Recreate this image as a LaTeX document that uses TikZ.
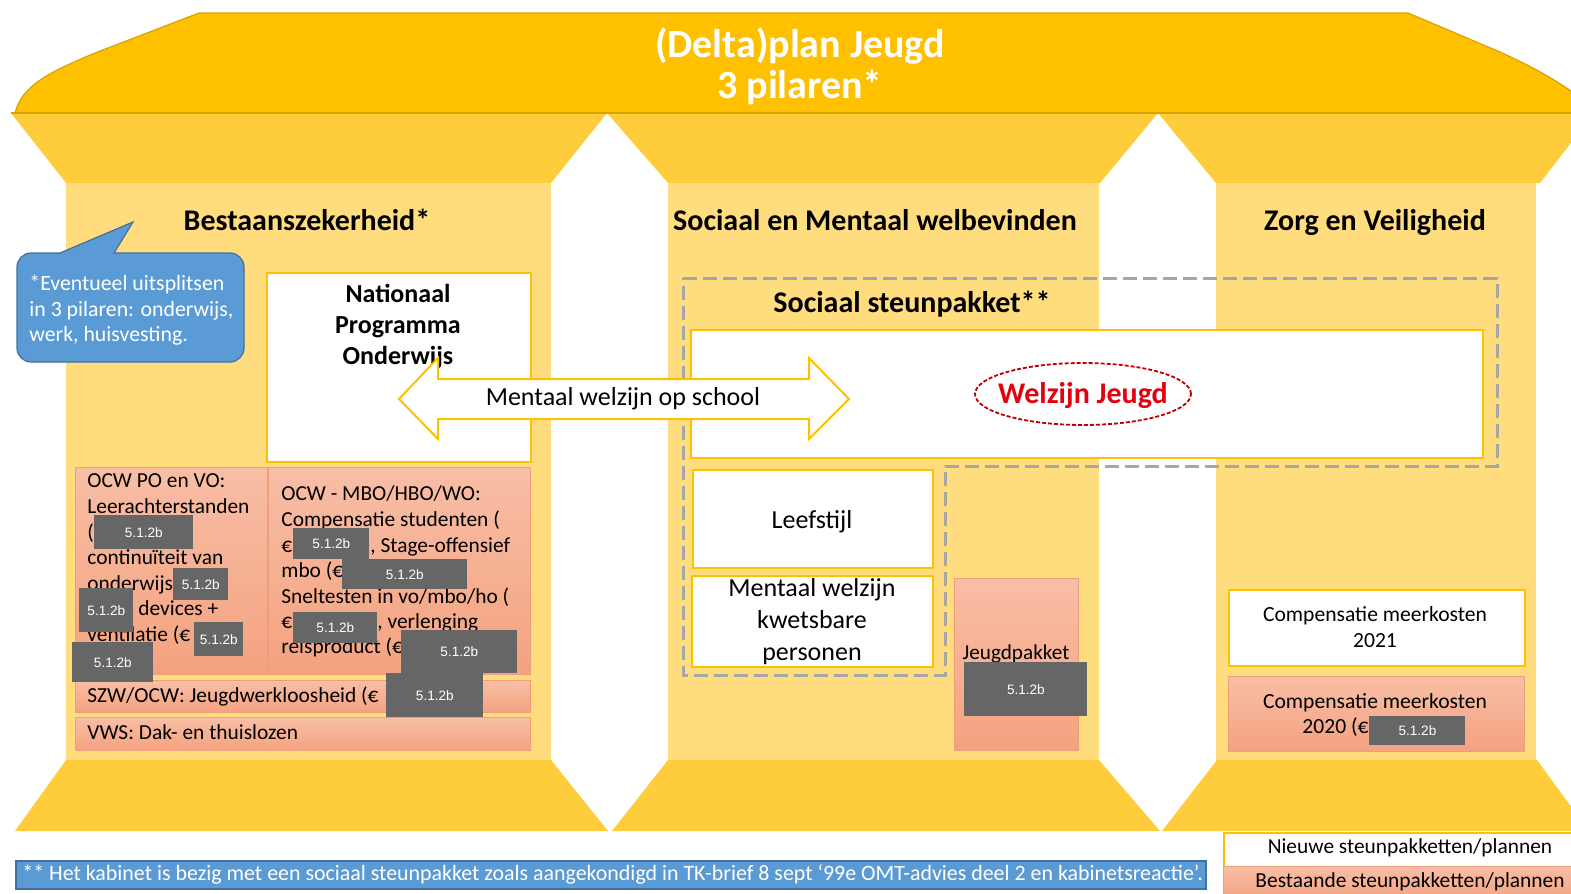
\documentclass[tikz,border=0pt]{standalone}
\usepackage{fontspec}
\setmainfont{Carlito}
\newfontfamily\redfont{Liberation Sans}
\usetikzlibrary{shapes.geometric}
\definecolor{roofc}{HTML}{FFC000}
\definecolor{roofd}{HTML}{D9A300}
\definecolor{capc}{HTML}{FFCD3C}
\definecolor{pilc}{HTML}{FFDC7E}
\definecolor{goldc}{HTML}{FFC000}
\definecolor{salT}{HTML}{F8BEA6}
\definecolor{salB}{HTML}{F4A27F}
\definecolor{salD}{HTML}{EE9E7A}
\definecolor{blu}{HTML}{5B9BD5}
\definecolor{bluD}{HTML}{41719C}
\definecolor{redT}{HTML}{E3000F}
\definecolor{redE}{HTML}{C00000}
\definecolor{redc}{HTML}{666666}
\definecolor{dgray}{HTML}{A6A6A6}
\newcommand\mybox[6]{\node[#2, inner sep=0pt, anchor=north west, minimum width={(#5-#3)*0.5pt}, minimum height={(#6-#4)*0.5pt}] (#1) at (#3,#4) {};}
\newcommand\redact[5]{\node[rbox, inner sep=0pt, anchor=north west, minimum width={(#4-#2)*0.5pt}, minimum height={(#5-#3)*0.5pt}] (#1) at (#2,#3) {5.1.2b};}
\begin{document}
\begin{tikzpicture}[x=0.5pt,y=-0.5pt,
  wbox/.style={draw=goldc, line width=1pt, fill=white},
  sbox/.style={draw=salD, line width=0.6pt, top color=salT, bottom color=salB},
  rbox/.style={fill=redc, text=white, font=\redfont\fontsize{6.8}{7}\selectfont},
  lline/.style={inner sep=0pt, anchor=base west},
  cline/.style={inner sep=0pt, anchor=base},
  smallf/.style={font=\fontsize{10.7}{12.85}\selectfont},
  headf/.style={font=\fontsize{15}{17}\selectfont\bfseries},
  midf/.style={font=\fontsize{13}{15}\selectfont},
  compf/.style={font=\fontsize{10.8}{13}\selectfont}]
\useasboundingbox (0,0) rectangle (1571,894);
\clip (0,0) rectangle (1571,894);
% roof
\path[fill=roofc, draw=roofd, line width=0.6pt] (15,113) .. controls (22,85) and (50,72) .. (95,53) -- (199,13) -- (1408,13) -- (1500,52) .. controls (1530,66) and (1555,78) .. (1590,105) -- (1590,113) -- cycle;
% capitals
\fill[capc] (11,113) -- (607,113) -- (551,183) -- (66,183) -- cycle;
\fill[capc] (607,113) -- (1158,113) -- (1100,183) -- (668,183) -- cycle;
\fill[capc] (1158,113) -- (1594,113) -- (1540,183) -- (1216,183) -- cycle;
\draw[roofd, line width=0.6pt] (11,113) -- (1571,113);
% pillars
\fill[pilc] (66,183) rectangle (551,760);
\fill[pilc] (668,183) rectangle (1099,760);
\fill[pilc] (1216,183) rectangle (1536,760);
% bases
\fill[capc] (66,760) -- (551,760) -- (608,831) -- (15,831) -- cycle;
\fill[capc] (668,760) -- (1099,760) -- (1160,831) -- (612,831) -- cycle;
\fill[capc] (1217,760) -- (1537,760) -- (1589,831) -- (1162,831) -- cycle;
% title
\node[cline, text=white, font=\fontsize{20}{24}\selectfont\bfseries] (t1) at (800,57) {(Delta)plan Jeugd};
\node[cline, text=white, font=\fontsize{20}{24}\selectfont\bfseries] (t2) at (800,98) {3 pilaren*};
% headings
\node[cline, headf] (h1) at (307,230) {Bestaanszekerheid*};
\node[cline, headf] (h2) at (875,230) {Sociaal en Mentaal welbevinden};
\node[cline, headf] (h3) at (1375,230) {Zorg en Veiligheid};
% callout
\path[fill=blu, draw=bluD, line width=0.6pt] (60,253) -- (133,222) -- (114,253) [rounded corners=7pt] -- (244,253) -- (244,362) -- (17,362) -- (17,253) [sharp corners] -- cycle;
\node[lline, text=white, font=\fontsize{10.9}{12.5}\selectfont] (c1) at (29,290) {*Eventueel uitsplitsen};
\node[lline, text=white, font=\fontsize{10.9}{12.5}\selectfont] (c2) at (29,316) {in 3 pilaren: onderwijs,};
\node[lline, text=white, font=\fontsize{10.9}{12.5}\selectfont] (c3) at (29,341) {werk, huisvesting.};
% NPO
\mybox{npo}{wbox}{266}{272}{530}{461}
\node[cline, font=\fontsize{13}{15}\selectfont\bfseries] (n1) at (398,302) {Nationaal};
\node[cline, font=\fontsize{13}{15}\selectfont\bfseries] (n2) at (398,333) {Programma};
\node[cline, font=\fontsize{13}{15}\selectfont\bfseries] (n3) at (398,364) {Onderwijs};
% left salmon boxes
\mybox{bA}{sbox}{75}{467}{267}{674}
\mybox{bB}{sbox}{268}{467}{530}{674}
\mybox{bC}{sbox}{75}{680}{530}{712}
\mybox{bD}{sbox}{75}{717}{530}{750}
\node[lline, smallf] (a1) at (87,487) {OCW PO en VO:};
\node[lline, smallf] (a2) at (87,513) {Leerachterstanden};
\node[lline, smallf] (a3) at (87,539) {(};
\node[lline, smallf] (a4) at (87,564) {continuïteit van};
\node[lline, smallf] (a5) at (87,590) {onderwijs};
\node[lline, smallf] (a6) at (138,615) {devices +};
\node[lline, smallf] (a7) at (87,641) {ventilatie (€};
\node[lline, smallf] (b1) at (281,500) {OCW - MBO/HBO/WO:};
\node[lline, smallf] (b2) at (281,526) {Compensatie studenten (};
\node[lline, smallf] (b3) at (281,552) {€};
\node[lline, smallf] (b3r) at (370,552) {, Stage-offensief};
\node[lline, smallf] (b4) at (281,577) {mbo (€};
\node[lline, smallf] (b5) at (281,603) {Sneltesten in vo/mbo/ho (};
\node[lline, smallf] (b6) at (281,628) {€};
\node[lline, smallf] (b6r) at (377,628) {, verlenging};
\node[lline, smallf] (b7) at (281,653) {reisproduct (€};
\node[lline, smallf] (cC) at (87,702) {SZW/OCW: Jeugdwerkloosheid (€};
\node[lline, smallf] (cD) at (87,739) {VWS: Dak- en thuislozen};
% sociaal steunpakket region
\draw[dgray, line width=1.5pt, dash pattern=on 7pt off 3pt] (683,278) -- (1497,278) -- (1497,466) -- (945,466) -- (945,675) -- (683,675) -- cycle;
\node[cline, headf] (ss) at (912,312) {Sociaal steunpakket**};
\mybox{wj}{wbox}{690}{329}{1482}{457}
\mybox{lf}{wbox}{692}{469}{932}{567}
\node[cline, midf] (lft) at (812,528) {Leefstijl};
\mybox{mw}{wbox}{691}{575}{932}{666}
\node[cline, midf] (m1) at (812,596) {Mentaal welzijn};
\node[cline, midf] (m2) at (812,628) {kwetsbare};
\node[cline, midf] (m3) at (812,660) {personen};
\mybox{jp}{sbox}{954}{578}{1078}{750}
\node[cline, font=\fontsize{10.6}{12}\selectfont] (jpt) at (1016,659) {Jeugdpakket};
% right pillar boxes
\mybox{k21}{wbox}{1228}{589}{1524}{665}
\node[cline, compf] (k21a) at (1375,621) {Compensatie meerkosten};
\node[cline, compf] (k21b) at (1375,647) {2021};
\mybox{k20}{sbox}{1228}{676}{1524}{751}
\node[cline, compf] (k20a) at (1375,708) {Compensatie meerkosten};
\node[lline, compf] (k20b) at (1302,733) {2020 (€};
% double arrow
\path[fill=white, draw=goldc, line width=1pt] (399,399) -- (438,358) -- (438,379) -- (809,379) -- (809,358) -- (849,399) -- (809,439) -- (809,419) -- (438,419) -- (438,439) -- cycle;
\node[cline, midf] (arr) at (623,405) {Mentaal welzijn op school};
% welzijn jeugd
\node[ellipse, draw=redE, line width=0.9pt, dash pattern=on 2pt off 1pt, minimum width=108pt, minimum height=31pt, inner sep=0pt] (wje) at (1083,394) {};
\node[cline, text=redT, font=\fontsize{15}{17}\selectfont\bfseries] (wjt) at (1083,403) {Welzijn Jeugd};
% redactions
\redact{r1}{94}{515}{193}{549}
\redact{r2}{173}{568}{228}{600}
\redact{r3}{79}{588}{133}{632}
\redact{r4}{194}{622}{243}{656}
\redact{r5}{72}{642}{153}{682}
\redact{r6}{293}{528}{369}{559}
\redact{r7}{342}{559}{467}{589}
\redact{r8}{293}{612}{377}{643}
\redact{r9}{401}{630}{517}{673}
\redact{r10}{386}{673}{483}{717}
\redact{r11}{964}{662}{1087}{716}
\redact{r12}{1369}{716}{1465}{745}
% legend
\mybox{lg1}{wbox}{1223}{832}{1580}{866}
\node[cline, font=\fontsize{10.7}{12}\selectfont] (lg1t) at (1410,853) {Nieuwe steunpakketten/plannen};
\mybox{lg2}{sbox}{1223}{866}{1580}{900}
\node[cline, font=\fontsize{10.7}{12}\selectfont] (lg2t) at (1410,887) {Bestaande steunpakketten/plannen};
% footnote
\node[fill=blu, draw=bluD, line width=0.8pt, inner sep=0pt, anchor=north west, minimum width={(1205-15)*0.5pt}, minimum height={(888-860)*0.5pt}] (fn) at (15,860) {};
\node[lline, text=white, font=\fontsize{10.95}{12}\selectfont] (fnt) at (22,880) {** Het kabinet is bezig met een sociaal steunpakket zoals aangekondigd in TK-brief 8 sept ‘99e OMT-advies deel 2 en kabinetsreactie’.};
\end{tikzpicture}
\end{document}
